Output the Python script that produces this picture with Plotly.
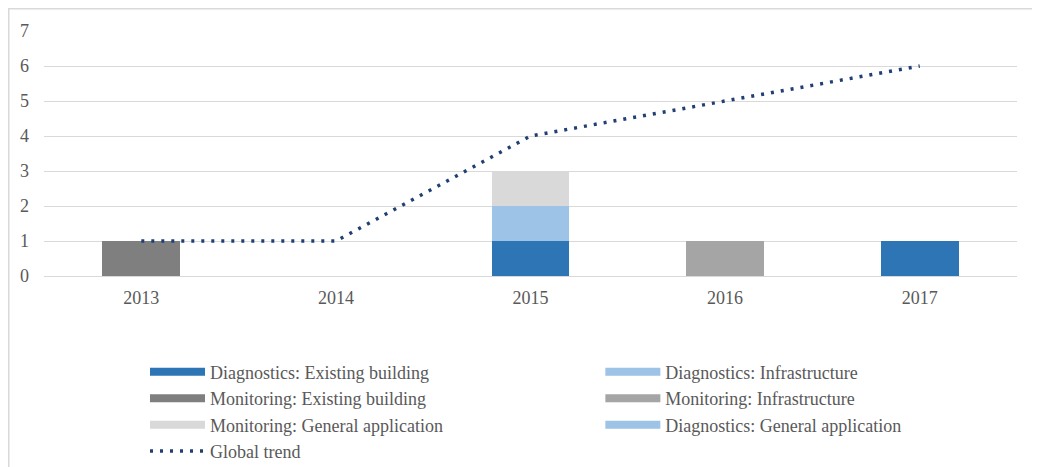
import plotly.graph_objects as go

# chart data
years = ['2013', '2014', '2015', '2016', '2017']
diag_existing = [0, 0, 1, 0, 1]
diag_infra = [0, 0, 1, 0, 0]
mon_existing = [1, 0, 0, 0, 0]
mon_infra = [0, 0, 0, 1, 0]
mon_general = [0, 0, 1, 0, 0]
diag_general = [0, 0, 0, 0, 0]
global_trend = [1, 1, 4, 5, 6]

# name, values, colour, which legend column
series = [
    ('Diagnostics: Existing building', diag_existing, '#2E75B6', 'legend'),
    ('Diagnostics: Infrastructure', diag_infra, '#9DC3E6', 'legend2'),
    ('Monitoring: Existing building', mon_existing, '#7F7F7F', 'legend'),
    ('Monitoring: Infrastructure', mon_infra, '#A5A5A5', 'legend2'),
    ('Monitoring: General application', mon_general, '#D9D9D9', 'legend'),
    ('Diagnostics: General application', diag_general, '#9DC3E6', 'legend2'),
]

fig = go.Figure()

for name, vals, col, lg in series:
    fig.add_trace(go.Bar(x=years, y=vals, name=name, marker_color=col,
                         marker_line_width=0, showlegend=False))

# legend entries drawn as wide colour bars
for name, vals, col, lg in series:
    fig.add_trace(go.Scatter(x=[None], y=[None], name=name, mode='lines',
                             line=dict(color=col, width=8), legend=lg))

fig.add_trace(go.Scatter(x=years, y=global_trend, name='Global trend', mode='lines',
                         line=dict(color='#203F74', width=3.5, dash='3px,7px'),
                         legend='legend'))

legend_style = dict(orientation='v', xanchor='left', yanchor='top', traceorder='normal',
                    font=dict(size=18, color='#595959'), itemwidth=55,
                    bgcolor='rgba(0,0,0,0)', tracegroupgap=0)

# the page puts the figure 8px in from the top left, so margins are trimmed to suit
fig.update_layout(
    barmode='stack',
    bargap=0.6,
    width=1040, height=467,
    margin=dict(l=36, r=31, t=23, b=199, autoexpand=False),
    plot_bgcolor='white',
    paper_bgcolor='white',
    font=dict(family='Liberation Serif', size=18, color='#595959'),
    legend=dict(x=0.1038, y=-0.317, **legend_style),
    legend2=dict(x=0.5718, y=-0.317, **legend_style),
)

fig.update_xaxes(showgrid=False, showline=False, ticks='', ticklabelstandoff=9)
fig.update_yaxes(range=[0, 7], dtick=1, showgrid=True, gridcolor='#D9D9D9', gridwidth=1,
                 zeroline=True, zerolinecolor='#D9D9D9', zerolinewidth=1,
                 showline=False, ticks='', ticklabelstandoff=14)

# light grey frame round the chart
fig.add_shape(type='rect', xref='paper', yref='paper',
              x0=-0.0362, x1=1.0226, y0=-1.2, y1=1.0908,
              line=dict(color='#D9D9D9', width=1.5), layer='below')

fig.write_html("out.html")
